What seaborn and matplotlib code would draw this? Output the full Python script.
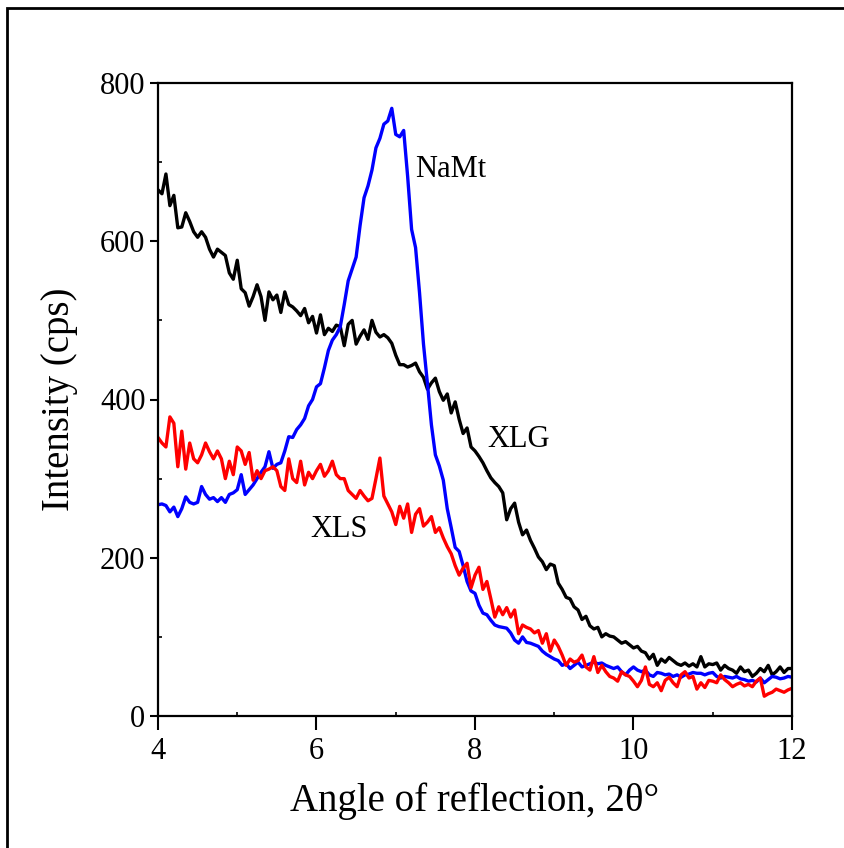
import numpy as np
import pandas as pd
import matplotlib
matplotlib.use("Agg")
import matplotlib.pyplot as plt
from matplotlib.patches import Rectangle
from matplotlib.ticker import MultipleLocator
import seaborn as sns

# ---- data (2θ from 4 to 12 in steps of 0.05) ----
angle_start, angle_step = 4.0, 0.05

xlg = [665, 660, 685, 645, 658, 617, 618, 636, 625, 612,
       605, 612, 605, 590, 580, 590, 586, 582, 560, 552,
       576, 540, 535, 518, 530, 545, 530, 500, 536, 526,
       532, 510, 536, 520, 517, 512, 506, 515, 497, 505,
       484, 507, 482, 490, 486, 494, 492, 468, 495, 500,
       470, 480, 488, 476, 500, 485, 479, 482, 478, 471,
       456, 444, 444, 441, 443, 446, 435, 428, 413, 421,
       427, 410, 399, 407, 383, 397, 375, 357, 364, 340,
       335, 328, 320, 310, 301, 295, 290, 282, 248, 262,
       269, 245, 229, 235, 222, 212, 201, 195, 185, 192,
       190, 168, 160, 150, 148, 138, 134, 122, 126, 114,
       110, 112, 100, 104, 101, 100, 96, 92, 94, 90,
       86, 88, 82, 80, 72, 78, 64, 72, 68, 74,
       70, 66, 64, 67, 63, 66, 62, 75, 62, 66,
       65, 67, 58, 64, 60, 58, 54, 62, 56, 58,
       50, 54, 60, 56, 64, 52, 56, 62, 55, 60,
       60]

namt = [267, 268, 266, 258, 264, 252, 262, 277, 270, 268,
        270, 290, 280, 274, 276, 271, 276, 270, 280, 282,
        286, 305, 280, 286, 292, 300, 308, 315, 334, 313,
        318, 320, 335, 353, 352, 362, 368, 376, 392, 400,
        416, 420, 440, 462, 475, 482, 492, 520, 550, 565,
        580, 620, 655, 670, 690, 718, 730, 748, 752, 768,
        735, 732, 740, 682, 615, 592, 535, 470, 420, 368,
        330, 316, 298, 262, 238, 213, 208, 190, 170, 158,
        155, 140, 130, 128, 121, 115, 113, 112, 111, 105,
        96, 92, 100, 93, 92, 90, 88, 82, 78, 75,
        72, 70, 64, 66, 60, 64, 68, 62, 64, 66,
        68, 66, 67, 64, 62, 60, 62, 56, 52, 58,
        62, 58, 56, 58, 52, 50, 55, 54, 52, 53,
        50, 52, 49, 52, 53, 55, 54, 54, 52, 54,
        55, 50, 48, 50, 49, 48, 50, 47, 46, 44,
        45, 43, 48, 42, 46, 50, 49, 47, 48, 50,
        49]

xls = [352, 345, 340, 378, 370, 315, 360, 312, 345, 325,
       320, 330, 345, 334, 325, 335, 325, 300, 322, 305,
       340, 335, 318, 333, 298, 310, 300, 310, 312, 315,
       310, 290, 285, 325, 300, 295, 322, 292, 308, 300,
       310, 318, 303, 310, 322, 305, 300, 300, 285, 280,
       275, 285, 278, 272, 275, 300, 326, 278, 268, 258,
       242, 265, 250, 268, 232, 255, 262, 240, 245, 252,
       232, 238, 225, 214, 205, 190, 178, 187, 193, 162,
       178, 188, 160, 170, 148, 125, 138, 128, 137, 125,
       134, 104, 115, 112, 110, 105, 108, 92, 104, 82,
       96, 88, 77, 64, 72, 68, 70, 77, 62, 58,
       75, 55, 64, 56, 50, 48, 44, 56, 52, 50,
       44, 37, 45, 62, 40, 37, 42, 32, 45, 49,
       42, 37, 52, 56, 48, 50, 34, 42, 36, 45,
       44, 42, 52, 46, 42, 37, 40, 42, 38, 40,
       37, 44, 48, 25, 28, 30, 34, 32, 30, 33,
       35]

series_names = ["XLG", "NaMt", "XLS"]
series_colors = {"XLG": "#000000", "NaMt": "#0000ff", "XLS": "#ff0000"}
x_ticks = [4, 6, 8, 10, 12]
y_ticks = [0, 200, 400, 600, 800]

# label anchor positions (data coords, left/baseline)
label_pos = {"NaMt": (7.24, 681), "XLG": (8.16, 340), "XLS": (5.92, 226)}

# ---- build long table ----
frames = []
for name, vals in zip(series_names, [xlg, namt, xls]):
    n = len(vals)
    frames.append(pd.DataFrame({
        "angle": angle_start + angle_step * np.arange(n),
        "intensity": vals,
        "sample": name,
    }))
df = pd.concat(frames, ignore_index=True)

sns.set_theme(style="ticks")
plt.rcParams["font.family"] = ["Liberation Serif", "DejaVu Serif"]
plt.rcParams["text.color"] = "black"
plt.rcParams["axes.labelcolor"] = "black"
plt.rcParams["xtick.color"] = "black"
plt.rcParams["ytick.color"] = "black"

fig = plt.figure(figsize=(8.45, 8.48), dpi=100)
ax = fig.add_axes([158 / 845, 1 - 716 / 848, (792 - 158) / 845, (716 - 83) / 848])

sns.lineplot(data=df, x="angle", y="intensity", hue="sample",
             hue_order=series_names, palette=series_colors,
             linewidth=2.4, legend=False, ax=ax, estimator=None, sort=False)

ax.set_xlim(4, 12)
ax.set_ylim(0, 800)
ax.set_xticks(x_ticks)
ax.set_yticks(y_ticks)
ax.xaxis.set_minor_locator(MultipleLocator(1))
ax.yaxis.set_minor_locator(MultipleLocator(100))

ax.tick_params(axis="x", which="major", direction="out", length=10, width=1.5,
               labelsize=22, pad=5, colors="black")
ax.tick_params(axis="y", which="major", direction="out", length=6, width=1.5,
               labelsize=22, pad=3, colors="black")
ax.tick_params(which="minor", direction="in", length=3, width=1.2, colors="black")

for sp in ax.spines.values():
    sp.set_linewidth(1.6)
    sp.set_color("black")

ax.set_xlabel("Angle of reflection, 2θ°", fontsize=28, labelpad=12, color="black")
ax.set_ylabel("Intensity (cps)", fontsize=28, labelpad=16, color="black")

for name, (lx, ly) in label_pos.items():
    ax.text(lx, ly, name, fontsize=22, ha="left", va="baseline", color="black")

# outer frame of the figure
fig.patches.append(Rectangle((7 / 845, -0.05), 1.2, 1.05 - 8 / 848,
                             transform=fig.transFigure, fill=False,
                             edgecolor="black", linewidth=2, clip_on=False))

fig.savefig("out.png", dpi=100)
